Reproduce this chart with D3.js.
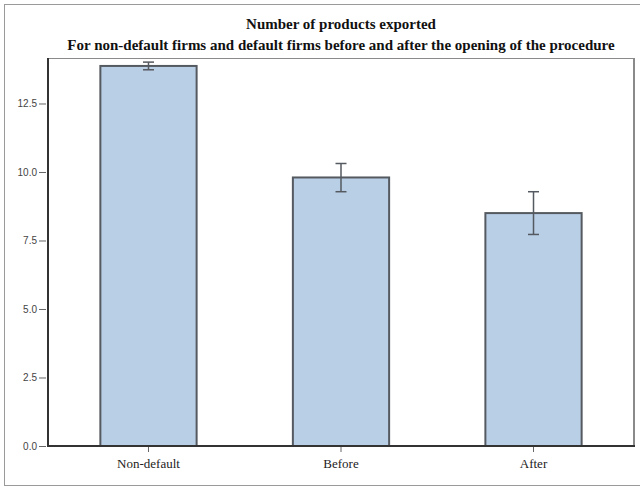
<!DOCTYPE html>
<html><head><meta charset="utf-8">
<script src="https://cdn.jsdelivr.net/npm/d3@7"></script>
<style>body{margin:0;background:#fff}svg{display:block}</style>
</head><body>
<script>
const categories = ["Non-default", "Before", "After"];
const means = [13.87, 9.80, 8.50];
const ciLow = [13.73, 9.28, 7.72];
const ciHigh = [14.01, 10.31, 9.28];
const yTicks = [0, 2.5, 5, 7.5, 10, 12.5];
const title = "Number of products exported";
const subtitle = "For non-default firms and default firms before and after the opening of the procedure";

const W = 640, H = 487;
const L = 48, R = 634, T = 58, B = 446;
const svg = d3.select("body").append("svg").attr("width", W).attr("height", H);

svg.append("rect").attr("x", 4.5).attr("y", 4.5).attr("width", 640).attr("height", 481)
  .attr("fill", "none").attr("stroke", "#9a9a9a").attr("stroke-width", 1);

const x = d3.scaleBand().domain(categories).range([L, R]).paddingInner(0.5).paddingOuter(0.272);
const y = d3.scaleLinear().domain([0, 14.16]).range([B, T]);

// frame top/right
svg.append("line").attr("x1", L).attr("x2", R).attr("y1", T + 0.5).attr("y2", T + 0.5)
  .attr("stroke", "#8a8a8a").attr("stroke-width", 1);
svg.append("line").attr("x1", R).attr("x2", R).attr("y1", T).attr("y2", B)
  .attr("stroke", "#8a8a8a").attr("stroke-width", 2);

// bars
svg.selectAll("rect.bar").data(categories).join("rect").attr("class", "bar")
  .attr("x", d => x(d)).attr("width", x.bandwidth())
  .attr("y", (d, i) => y(means[i])).attr("height", (d, i) => y(0) - y(means[i]))
  .attr("fill", "#b9cfe6").attr("stroke", "#555a60").attr("stroke-width", 2);

// error bars
const cx = d => x(d) + x.bandwidth() / 2;
const eg = svg.append("g").attr("stroke", "#555a60").attr("stroke-width", 1.5);
categories.forEach((c, i) => {
  eg.append("line").attr("x1", cx(c)).attr("x2", cx(c)).attr("y1", y(ciLow[i])).attr("y2", y(ciHigh[i]));
  eg.append("line").attr("x1", cx(c) - 5.5).attr("x2", cx(c) + 5.5).attr("y1", y(ciLow[i])).attr("y2", y(ciLow[i]));
  eg.append("line").attr("x1", cx(c) - 5.5).attr("x2", cx(c) + 5.5).attr("y1", y(ciHigh[i])).attr("y2", y(ciHigh[i]));
});

// y axis
const ya = svg.append("g").attr("transform", `translate(${L},0)`)
  .call(d3.axisLeft(y).tickValues(yTicks).tickFormat(d3.format(".1f")).tickSize(7).tickSizeOuter(0));
ya.select(".domain").remove();
ya.selectAll(".tick line").attr("stroke", "#666").attr("transform", "translate(-2,0)");
ya.selectAll(".tick text").attr("font-family", "Liberation Sans, Arial, sans-serif").attr("font-size", 10)
  .attr("fill", "#444").attr("x", -11);
svg.append("line").attr("x1", L).attr("x2", L).attr("y1", T).attr("y2", B + 1)
  .attr("stroke", "#333", ).attr("stroke-width", 2);

// x axis
const xa = svg.append("g").attr("transform", `translate(0,${B})`)
  .call(d3.axisBottom(x).tickSize(6).tickSizeOuter(0));
xa.select(".domain").remove();
xa.selectAll(".tick line").attr("stroke", "#666");
xa.selectAll(".tick text").attr("font-family", "Liberation Serif, Times New Roman, serif").attr("font-size", 13)
  .attr("fill", "#222").attr("y", 13);
svg.append("line").attr("x1", L - 1).attr("x2", R + 1).attr("y1", B).attr("y2", B)
  .attr("stroke", "#333").attr("stroke-width", 2);

// titles
const tx = (L + R) / 2;
svg.append("text").attr("x", tx).attr("y", 29).attr("text-anchor", "middle")
  .attr("font-family", "Liberation Serif, Times New Roman, serif").attr("font-weight", "bold").attr("font-size", 15)
  .attr("fill", "#111").text(title);
svg.append("text").attr("x", tx).attr("y", 50).attr("text-anchor", "middle")
  .attr("font-family", "Liberation Serif, Times New Roman, serif").attr("font-weight", "bold").attr("font-size", 15)
  .attr("fill", "#111").text(subtitle);
</script>
</body></html>
